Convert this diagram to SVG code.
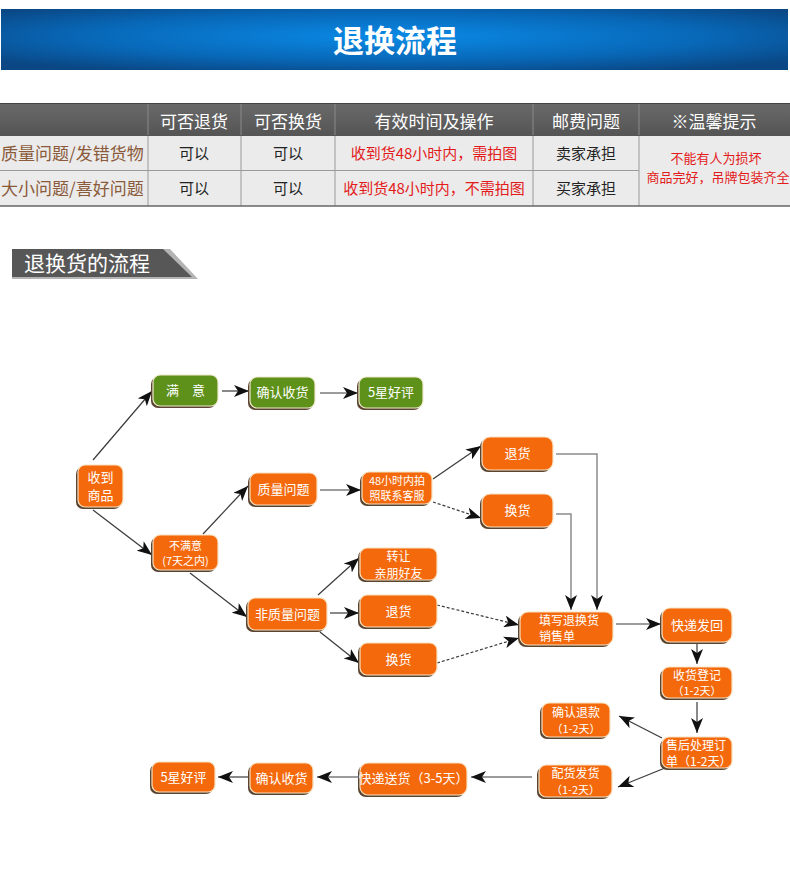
<svg xmlns="http://www.w3.org/2000/svg" width="790" height="870" viewBox="0 0 790 870">
<defs>
<radialGradient id="bannerGrad" cx="50%" cy="45%" r="65%">
<stop offset="0" stop-color="#0a8ae6"/>
<stop offset="0.6" stop-color="#0868b8"/>
<stop offset="1" stop-color="#0a4784"/>
</radialGradient>
<linearGradient id="thGrad" x1="0" y1="0" x2="0" y2="1">
<stop offset="0" stop-color="#6a6a6a"/>
<stop offset="1" stop-color="#555555"/>
</linearGradient>
<marker id="arr" markerUnits="userSpaceOnUse" markerWidth="16" markerHeight="12" refX="15" refY="6" orient="auto">
<path d="M0,0 L15,6 L0,12 L4,6 Z" fill="#111"/>
</marker>
<style>
text{font-family:"Noto Sans CJK SC","Noto Sans",sans-serif;}
.th{fill:#fff;font-size:17px;text-anchor:middle;}
.rl{fill:#8a5a3a;font-size:17px;}
.td{fill:#222;font-size:15px;text-anchor:middle;}
.red{fill:#e31b1b;font-size:15px;text-anchor:middle;}
.red2{fill:#e31b1b;font-size:13px;text-anchor:middle;}
.grid{stroke:#9a9a9a;stroke-width:1;fill:none;}
.sh{fill:#5a4430;}
.o{fill:#f4690c;stroke:#f7e2c2;stroke-width:1.2;}
.g{fill:#5e9119;stroke:#f0ead0;stroke-width:1.2;}
.nt{fill:#fff;font-size:13px;text-anchor:middle;}
.n2{fill:#fff;font-size:12px;text-anchor:middle;}
.ns{fill:#fff;font-size:11px;text-anchor:middle;}
.nl{text-anchor:start;}
.c{stroke:#3a3a3a;stroke-width:1.2;fill:none;marker-end:url(#arr);}
.cd{stroke:#3a3a3a;stroke-width:1.2;fill:none;stroke-dasharray:3,2;marker-end:url(#arr);}
.cg{stroke:#8c8c8c;stroke-width:1.5;fill:none;marker-end:url(#arr);}
</style>
</defs>
<rect width="790" height="870" fill="#fff"/>

<g id="banner">
<rect x="1" y="9" width="787" height="61" fill="url(#bannerGrad)"/>
<text x="395" y="52" fill="#fff" font-size="31" font-weight="bold" text-anchor="middle">退换流程</text>
</g>

<g id="table">
<rect x="0" y="103" width="790" height="32" fill="url(#thGrad)"/>
<rect x="0" y="135" width="790" height="71" fill="#ebebeb"/>
<line x1="148" y1="103" x2="148" y2="135" stroke="#8a8a8a"/>
<line x1="241" y1="103" x2="241" y2="135" stroke="#8a8a8a"/>
<line x1="335" y1="103" x2="335" y2="135" stroke="#8a8a8a"/>
<line x1="533" y1="103" x2="533" y2="135" stroke="#8a8a8a"/>
<line x1="639" y1="103" x2="639" y2="135" stroke="#8a8a8a"/>
<line x1="148" y1="135" x2="148" y2="206" class="grid"/>
<line x1="241" y1="135" x2="241" y2="206" class="grid"/>
<line x1="335" y1="135" x2="335" y2="206" class="grid"/>
<line x1="533" y1="135" x2="533" y2="206" class="grid"/>
<line x1="639" y1="135" x2="639" y2="206" class="grid"/>
<line x1="0" y1="170.5" x2="639" y2="170.5" class="grid"/>
<line x1="0" y1="103.5" x2="790" y2="103.5" stroke="#444"/>
<line x1="0" y1="135.5" x2="790" y2="135.5" stroke="#555"/>
<line x1="0" y1="206" x2="790" y2="206" stroke="#666" stroke-width="1.5"/>
<text class="th" x="194" y="128">可否退货</text>
<text class="th" x="288" y="128">可否换货</text>
<text class="th" x="434" y="128">有效时间及操作</text>
<text class="th" x="586" y="128">邮费问题</text>
<text class="th" x="714" y="128">※温馨提示</text>
<text class="rl" x="1" y="160">质量问题/发错货物</text>
<text class="rl" x="1" y="195">大小问题/喜好问题</text>
<text class="td" x="194" y="159">可以</text>
<text class="td" x="288" y="159">可以</text>
<text class="td" x="194" y="194">可以</text>
<text class="td" x="288" y="194">可以</text>
<text class="red" x="434" y="159">收到货48小时内，需拍图</text>
<text class="red" x="434" y="194">收到货48小时内，不需拍图</text>
<text class="td" x="586" y="159">卖家承担</text>
<text class="td" x="586" y="194">买家承担</text>
<text class="red2" x="716" y="163">不能有人为损坏</text>
<text class="red2" x="718" y="182">商品完好，吊牌包装齐全</text>
</g>

<g id="section-title">
<polygon points="12,249 170,249 198,279 12,279" fill="#b4b4b4"/>
<polygon points="12,249 163,249 192,277 12,277" fill="#575757"/>
<text x="24" y="271" fill="#fff" font-size="21">退换货的流程</text>
</g>

<g id="connectors">
<line class="c" x1="93" y1="460" x2="152" y2="391"/>
<line class="c" x1="93" y1="510" x2="152" y2="555"/>
<line class="c" x1="222" y1="391" x2="249" y2="391"/>
<line class="c" x1="320" y1="393" x2="358" y2="393"/>
<line class="c" x1="203" y1="534" x2="248" y2="486"/>
<line class="c" x1="320" y1="490" x2="361" y2="490"/>
<line class="c" x1="433" y1="479" x2="481" y2="446"/>
<line class="cd" x1="433" y1="502" x2="481" y2="518"/>
<line class="c" x1="190" y1="573" x2="247" y2="617"/>
<line class="c" x1="318" y1="595" x2="359" y2="558"/>
<line class="c" x1="330" y1="613" x2="359" y2="613"/>
<line class="c" x1="320" y1="632" x2="359" y2="663"/>
<line class="cd" x1="437" y1="605" x2="519" y2="625"/>
<line class="cd" x1="437" y1="663" x2="519" y2="638"/>
<polyline class="cg" points="556,454 597,454 597,610"/>
<polyline class="cg" points="556,514 571,514 571,610"/>
<line class="c" x1="616" y1="624" x2="661" y2="624"/>
<line class="c" x1="697" y1="644" x2="697" y2="664"/>
<line class="c" x1="697" y1="702" x2="697" y2="733"/>
<line class="c" x1="662" y1="738" x2="619" y2="716"/>
<line class="c" x1="665" y1="768" x2="618" y2="787"/>
<line class="c" x1="532" y1="777" x2="471" y2="777"/>
<line class="c" x1="360" y1="777" x2="317" y2="777"/>
<line class="c" x1="250" y1="777" x2="218" y2="777"/>
</g>

<g id="n-satisfied">
<rect class="sh" x="151" y="377" width="65" height="31" rx="7"/>
<rect class="g" x="153" y="375" width="65" height="31" rx="7"/>
<text class="nt" x="185.5" y="395">满　意</text>
</g>
<g id="n-confirm1">
<rect class="sh" x="248" y="379" width="65" height="31" rx="7"/>
<rect class="g" x="250" y="377" width="65" height="31" rx="7"/>
<text class="nt" x="282.5" y="397">确认收货</text>
</g>
<g id="n-5star1">
<rect class="sh" x="357" y="379" width="64" height="31" rx="7"/>
<rect class="g" x="359" y="377" width="64" height="31" rx="7"/>
<text class="nt" x="391" y="397" font-size="14">5星好评</text>
</g>
<g id="n-receive">
<rect class="sh" x="76" y="467" width="45" height="42" rx="7"/>
<rect class="o" x="78" y="465" width="45" height="42" rx="7"/>
<text class="nt" x="100.5" y="482">收到</text>
<text class="nt" x="100.5" y="500">商品</text>
</g>
<g id="n-quality">
<rect class="sh" x="248" y="475" width="67" height="32" rx="7"/>
<rect class="o" x="250" y="473" width="67" height="32" rx="7"/>
<text class="nt" x="283.5" y="494">质量问题</text>
</g>
<g id="n-48h">
<rect class="sh" x="360" y="474" width="70" height="32" rx="7"/>
<rect class="o" x="362" y="472" width="70" height="32" rx="7"/>
<text class="ns" x="397" y="485">48小时内拍</text>
<text class="ns" x="397" y="500">照联系客服</text>
</g>
<g id="n-return1">
<rect class="sh" x="480" y="439" width="71" height="33" rx="8"/>
<rect class="o" x="482" y="437" width="71" height="33" rx="8"/>
<text class="nt" x="517.5" y="458">退货</text>
</g>
<g id="n-exchange1">
<rect class="sh" x="480" y="496" width="71" height="33" rx="8"/>
<rect class="o" x="482" y="494" width="71" height="33" rx="8"/>
<text class="nt" x="517.5" y="515">换货</text>
</g>
<g id="n-unsatisfied">
<rect class="sh" x="151" y="537" width="65" height="35" rx="7"/>
<rect class="o" x="153" y="535" width="65" height="35" rx="7"/>
<text class="ns" x="185.5" y="550" font-size="12">不满意</text>
<text class="ns" x="185.5" y="565">(7天之内)</text>
</g>
<g id="n-nonquality">
<rect class="sh" x="246" y="600" width="79" height="32" rx="7"/>
<rect class="o" x="248" y="598" width="79" height="32" rx="7"/>
<text class="nt" x="287.5" y="619">非质量问题</text>
</g>
<g id="n-transfer">
<rect class="sh" x="358" y="550" width="77" height="32" rx="7"/>
<rect class="o" x="360" y="548" width="77" height="32" rx="7"/>
<text class="n2" x="398.5" y="561">转让</text>
<text class="n2" x="398.5" y="578">亲朋好友</text>
</g>
<g id="n-return2">
<rect class="sh" x="358" y="597" width="77" height="32" rx="7"/>
<rect class="o" x="360" y="595" width="77" height="32" rx="7"/>
<text class="nt" x="398.5" y="616">退货</text>
</g>
<g id="n-exchange2">
<rect class="sh" x="358" y="645" width="77" height="32" rx="7"/>
<rect class="o" x="360" y="643" width="77" height="32" rx="7"/>
<text class="nt" x="398.5" y="664">换货</text>
</g>
<g id="n-fillform">
<rect class="sh" x="518" y="614" width="93" height="33" rx="8"/>
<rect class="o" x="520" y="612" width="93" height="33" rx="8"/>
<text class="n2 nl" x="539" y="625">填写退换货</text>
<text class="n2 nl" x="539" y="641">销售单</text>
</g>
<g id="n-shipback">
<rect class="sh" x="660" y="610" width="70" height="34" rx="8"/>
<rect class="o" x="662" y="608" width="70" height="34" rx="8"/>
<text class="nt" x="697" y="630">快递发回</text>
</g>
<g id="n-recvreg">
<rect class="sh" x="660" y="669" width="70" height="31" rx="7"/>
<rect class="o" x="662" y="667" width="70" height="31" rx="7"/>
<text class="n2" x="697" y="680">收货登记</text>
<text class="ns" x="697" y="695">（1-2天）</text>
</g>
<g id="n-refund">
<rect class="sh" x="540" y="705" width="68" height="34" rx="7"/>
<rect class="o" x="542" y="703" width="68" height="34" rx="7"/>
<text class="n2" x="576" y="717">确认退款</text>
<text class="ns" x="576" y="733">（1-2天）</text>
</g>
<g id="n-aftersale">
<rect class="sh" x="660" y="739" width="70" height="31" rx="7"/>
<rect class="o" x="662" y="737" width="70" height="31" rx="7"/>
<text class="n2 nl" x="666" y="750" font-size="11.5">售后处理订</text>
<text class="n2 nl" x="666" y="766" font-size="11.5">单（1-2天）</text>
</g>
<g id="n-dispatch">
<rect class="sh" x="537" y="767" width="73" height="32" rx="7"/>
<rect class="o" x="539" y="765" width="73" height="32" rx="7"/>
<text class="n2" x="575.5" y="778">配货发货</text>
<text class="ns" x="575.5" y="794">（1-2天）</text>
</g>
<g id="n-express">
<rect class="sh" x="358" y="765" width="107" height="32" rx="8"/>
<rect class="o" x="360" y="763" width="107" height="32" rx="8"/>
<text class="nt" x="413.5" y="783" font-size="12">快递送货（3-5天）</text>
</g>
<g id="n-confirm2">
<rect class="sh" x="248" y="765" width="63" height="30" rx="7"/>
<rect class="o" x="250" y="763" width="63" height="30" rx="7"/>
<text class="nt" x="281.5" y="783">确认收货</text>
</g>
<g id="n-5star2">
<rect class="sh" x="150" y="764" width="63" height="30" rx="7"/>
<rect class="o" x="152" y="762" width="63" height="30" rx="7"/>
<text class="nt" x="183.5" y="782" font-size="14">5星好评</text>
</g>
</svg>
